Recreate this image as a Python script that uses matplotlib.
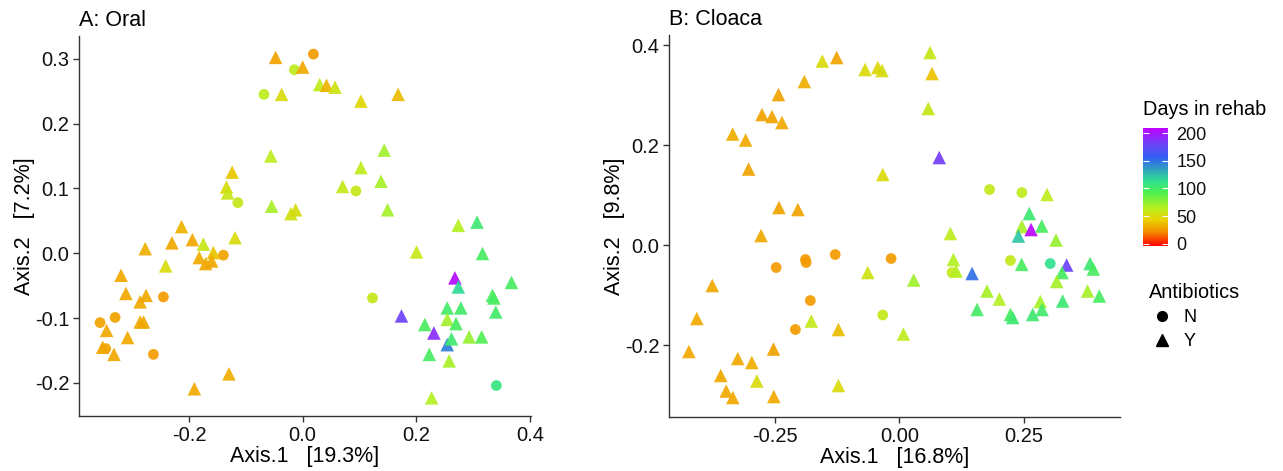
import matplotlib
matplotlib.use("Agg")
import matplotlib.pyplot as plt
import numpy as np
from matplotlib.colors import LinearSegmentedColormap, Normalize
from matplotlib.lines import Line2D
from matplotlib.ticker import FormatStrFormatter

plt.rcParams['font.family'] = ['Liberation Sans', 'DejaVu Sans']
plt.rcParams['axes.unicode_minus'] = False

# ---- A: Oral ----
oral_x = [-0.0475, 0.019, -0.0146, 0.0, 0.030, 0.042, 0.057, -0.068, -0.037, 0.1026,
          0.168, -0.056, -0.124, -0.134, -0.132, -0.114, -0.0545, -0.0206, -0.0123, 0.1436,
          0.1026, 0.138, 0.0704, 0.0938, 0.1495,
          -0.213, -0.277, -0.230, -0.194, -0.1747, -0.119, -0.241, -0.182, -0.1706, -0.157,
          -0.160, -0.1395, -0.3195, -0.311, -0.286, -0.2756, -0.245, -0.3565, -0.345, -0.330,
          -0.286, -0.280, -0.308, -0.352, -0.3465, -0.332, -0.2626, -0.1905, -0.1296,
          0.274, 0.307, 0.2005, 0.3166, 0.268, 0.274, 0.3676, 0.334, 0.3366, 0.123,
          0.2545, 0.2785, 0.34, 0.174, 0.2545, 0.215, 0.270, 0.231, 0.2545, 0.262,
          0.293, 0.315, 0.223, 0.258, 0.341, 0.227]
oral_y = [0.302, 0.307, 0.283, 0.287, 0.260, 0.259, 0.256, 0.245, 0.245, 0.2346,
          0.245, 0.150, 0.125, 0.102, 0.093, 0.078, 0.0725, 0.061, 0.067, 0.159,
          0.132, 0.111, 0.103, 0.096, 0.067,
          0.041, 0.007, 0.016, 0.021, 0.014, 0.024, -0.0195, -0.0067, -0.016, 0.001,
          -0.012, -0.003, -0.034, -0.062, -0.075, -0.065, -0.0674, -0.107, -0.119, -0.099,
          -0.106, -0.106, -0.130, -0.145, -0.147, -0.156, -0.156, -0.209, -0.186,
          0.043, 0.048, 0.002, -0.0005, -0.038, -0.052, -0.045, -0.065, -0.069, -0.069,
          -0.0844, -0.0844, -0.0906, -0.0967, -0.102, -0.110, -0.1085, -0.123, -0.141, -0.132,
          -0.129, -0.129, -0.156, -0.166, -0.204, -0.223]
oral_abx = ['Y', 'N', 'N', 'Y', 'Y', 'Y', 'Y', 'N', 'Y', 'Y',
            'Y', 'Y', 'Y', 'Y', 'Y', 'N', 'Y', 'Y', 'Y', 'Y',
            'Y', 'Y', 'Y', 'N', 'Y',
            'Y', 'Y', 'Y', 'Y', 'Y', 'Y', 'Y', 'Y', 'Y', 'Y',
            'Y', 'N', 'Y', 'Y', 'Y', 'Y', 'N', 'N', 'Y', 'N',
            'Y', 'Y', 'Y', 'Y', 'N', 'Y', 'N', 'Y', 'Y',
            'Y', 'Y', 'Y', 'Y', 'Y', 'Y', 'Y', 'Y', 'Y', 'N',
            'Y', 'Y', 'Y', 'Y', 'Y', 'Y', 'Y', 'Y', 'Y', 'Y',
            'Y', 'Y', 'Y', 'Y', 'N', 'Y']
oral_days = [30, 28, 62, 32, 62, 35, 55, 62, 50, 48,
             38, 62, 42, 50, 58, 58, 68, 55, 52, 70,
             62, 68, 60, 58, 68,
             35, 33, 32, 32, 58, 50, 50, 33, 32, 40,
             32, 30, 32, 32, 32, 32, 28, 30, 32, 30,
             32, 32, 32, 32, 30, 32, 28, 32, 33,
             65, 100, 60, 95, 195, 112, 95, 95, 95, 58,
             98, 98, 98, 172, 70, 95, 95, 182, 140, 100,
             72, 90, 95, 68, 105, 65]

# ---- B: Cloaca ----
cloaca_x = [-0.335, -0.309, -0.303, -0.276, -0.256, -0.236, -0.243, -0.191, -0.155, -0.126,
            -0.069, -0.0435, -0.035, -0.0335, -0.242, -0.204, -0.278, 0.0616, 0.0656, 0.058,
            0.080, 0.181, 0.246, 0.2966, 0.261, 0.1024, 0.246, 0.2645, 0.286, 0.239,
            0.3146, -0.0167, 0.1084, 0.1058, 0.1138, 0.146, 0.0287, 0.223, 0.2456, 0.303,
            0.336, 0.3267, 0.316, 0.383, 0.3896, 0.378, 0.4016, 0.176, 0.2008, 0.156,
            0.223, 0.2276, 0.283, 0.2865, 0.2677, 0.328, -0.0335, 0.008, -0.2476, -0.1888,
            -0.1874, -0.129, -0.0636, -0.376, -0.179, -0.407, -0.177, -0.209, -0.1225, -0.423,
            -0.253, -0.3247, -0.2966, -0.359, -0.2865, -0.348, -0.3347, -0.2524, -0.1225]
cloaca_y = [0.222, 0.210, 0.152, 0.261, 0.257, 0.245, 0.301, 0.327, 0.368, 0.375,
            0.351, 0.355, 0.349, 0.141, 0.075, 0.071, 0.019, 0.385, 0.343, 0.273,
            0.175, 0.111, 0.105, 0.101, 0.063, 0.023, 0.037, 0.031, 0.038, 0.018,
            0.010, -0.027, -0.029, -0.055, -0.052, -0.057, -0.070, -0.031, -0.0387, -0.037,
            -0.040, -0.055, -0.073, -0.037, -0.048, -0.092, -0.102, -0.092, -0.108, -0.129,
            -0.139, -0.145, -0.113, -0.129, -0.139, -0.112, -0.140, -0.178, -0.045, -0.029,
            -0.035, -0.019, -0.055, -0.081, -0.111, -0.147, -0.152, -0.169, -0.169, -0.213,
            -0.208, -0.227, -0.235, -0.261, -0.272, -0.292, -0.305, -0.303, -0.281]
cloaca_abx = ['Y', 'Y', 'Y', 'Y', 'Y', 'Y', 'Y', 'Y', 'Y', 'Y',
              'Y', 'Y', 'Y', 'Y', 'Y', 'Y', 'Y', 'Y', 'Y', 'Y',
              'Y', 'N', 'N', 'Y', 'Y', 'Y', 'Y', 'Y', 'Y', 'Y',
              'Y', 'N', 'Y', 'N', 'Y', 'Y', 'Y', 'N', 'Y', 'N',
              'Y', 'Y', 'Y', 'Y', 'Y', 'Y', 'Y', 'Y', 'Y', 'Y',
              'Y', 'Y', 'Y', 'Y', 'Y', 'Y', 'N', 'Y', 'N', 'N',
              'N', 'N', 'Y', 'Y', 'N', 'Y', 'Y', 'N', 'Y', 'Y',
              'Y', 'Y', 'Y', 'Y', 'Y', 'Y', 'Y', 'Y', 'Y']
cloaca_days = [33, 32, 30, 30, 30, 32, 30, 33, 50, 30,
               50, 48, 52, 50, 30, 30, 32, 58, 40, 58,
               175, 60, 62, 62, 100, 62, 68, 198, 95, 118,
               72, 28, 65, 60, 65, 145, 70, 60, 95, 110,
               172, 95, 68, 100, 95, 68, 95, 68, 65, 98,
               95, 100, 68, 98, 100, 100, 60, 62, 28, 28,
               28, 28, 55, 32, 28, 32, 60, 28, 38, 32,
               30, 32, 33, 32, 50, 32, 32, 32, 50]

cmap = LinearSegmentedColormap.from_list('rehab', [
    (0.00, '#FF0000'), (0.12, '#F59000'), (0.22, '#E8D000'), (0.32, '#B8F020'),
    (0.45, '#50F050'), (0.55, '#30E090'), (0.65, '#30A0C0'), (0.75, '#3060F0'),
    (0.87, '#7040F8'), (1.00, '#C000FF')])
norm = Normalize(vmin=0, vmax=200)

fig = plt.figure(figsize=(12.83, 4.71), dpi=100)
axA = fig.add_axes([0.0616, 0.1168, 0.3523, 0.8068])
axB = fig.add_axes([0.5214, 0.1146, 0.3515, 0.8110])


def draw(ax, xs, ys, abx, days, title, xlab, ylab):
    xs = np.asarray(xs); ys = np.asarray(ys)
    abx = np.asarray(abx); days = np.asarray(days)
    for code, mk, s in [('N', 'o', 60), ('Y', '^', 95)]:
        m = abx == code
        ax.scatter(xs[m], ys[m], c=days[m], cmap=cmap, norm=norm, marker=mk,
                   s=s, linewidths=0, alpha=0.92)
    for side in ['top', 'right']:
        ax.spines[side].set_visible(False)
    for side in ['left', 'bottom']:
        ax.spines[side].set_color('#333333')
        ax.spines[side].set_linewidth(1.0)
    ax.tick_params(colors='#333333', labelcolor='#111111', labelsize=14.5,
                   length=4, width=1.0, pad=3)
    ax.set_title(title, loc='left', fontsize=15.5, pad=7)
    ax.set_xlabel(xlab, fontsize=15.5, labelpad=1)
    ax.set_ylabel(ylab, fontsize=15.5, labelpad=0)


draw(axA, oral_x, oral_y, oral_abx, oral_days, 'A: Oral',
     'Axis.1   [19.3%]', 'Axis.2   [7.2%]')
axA.set_xlim(-0.3935, 0.402)
axA.set_ylim(-0.251, 0.335)
axA.set_xticks([-0.2, 0.0, 0.2, 0.4])
axA.set_yticks([-0.2, -0.1, 0.0, 0.1, 0.2, 0.3])
axA.xaxis.set_major_formatter(FormatStrFormatter('%.1f'))
axA.yaxis.set_major_formatter(FormatStrFormatter('%.1f'))

draw(axB, cloaca_x, cloaca_y, cloaca_abx, cloaca_days, 'B: Cloaca',
     'Axis.1   [16.8%]', 'Axis.2   [9.8%]')
axB.set_xlim(-0.463, 0.443)
axB.set_ylim(-0.344, 0.42)
axB.set_xticks([-0.25, 0.0, 0.25])
axB.set_yticks([-0.2, 0.0, 0.2, 0.4])
axB.xaxis.set_major_formatter(FormatStrFormatter('%.2f'))
axB.yaxis.set_major_formatter(FormatStrFormatter('%.1f'))

# colour bar legend
cax = fig.add_axes([0.8909, 0.4777, 0.0195, 0.2505])
sm = plt.cm.ScalarMappable(cmap=cmap, norm=Normalize(vmin=-4, vmax=209))
cb = fig.colorbar(sm, cax=cax)
cb.outline.set_visible(False)
cb.set_ticks([0, 50, 100, 150, 200])
cax.tick_params(labelsize=13, colors='white', labelcolor='#111111', length=4,
                width=0.8, direction='in', left=True, right=True, pad=6)
fig.text(0.8905, 0.747, 'Days in rehab', fontsize=14.3, va='bottom', ha='left')

handles = [Line2D([], [], marker='o', color='black', linestyle='None', markersize=7),
           Line2D([], [], marker='^', color='black', linestyle='None', markersize=9)]
leg = fig.legend(handles, ['N', 'Y'], title='Antibiotics', loc='upper left',
                 bbox_to_anchor=(0.883, 0.434), frameon=False, fontsize=13,
                 title_fontsize=14.3, alignment='left', handletextpad=0.5,
                 labelspacing=0.4, handlelength=1.4)

fig.savefig('out.png', dpi=100)
